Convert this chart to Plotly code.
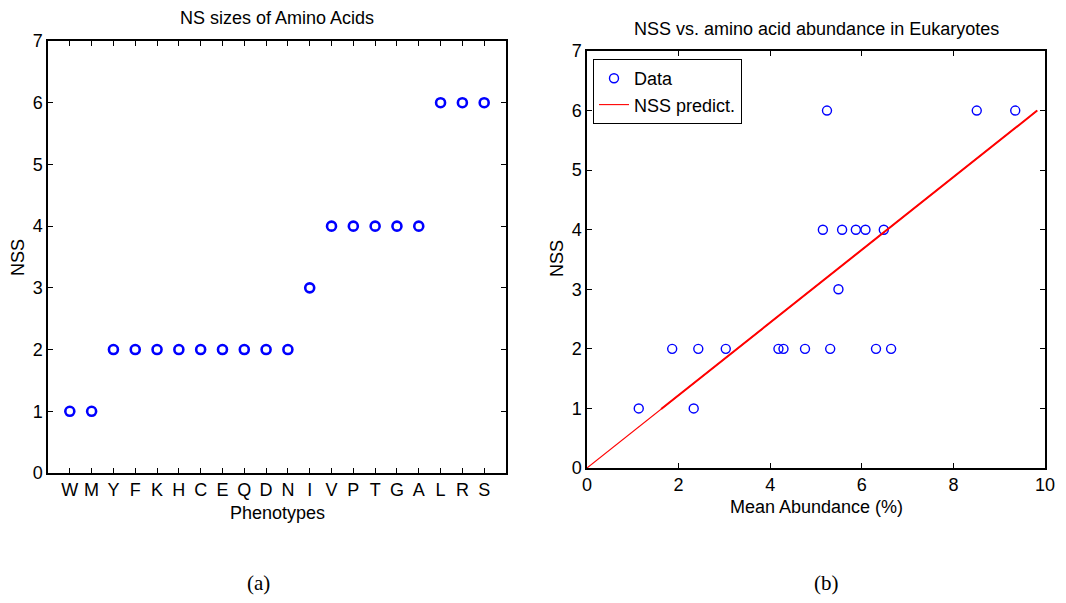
import plotly.graph_objects as go

W, H = 1066, 603

# ---- data: panel (a)
phenotypes = ["W", "M", "Y", "F", "K", "H", "C", "E", "Q", "D",
              "N", "I", "V", "P", "T", "G", "A", "L", "R", "S"]
nss_a = [1, 1, 2, 2, 2, 2, 2, 2, 2, 2, 2, 3, 4, 4, 4, 4, 4, 6, 6, 6]

# ---- data: panel (b)
abundance = [1.13, 2.33, 1.86, 2.43, 3.03, 4.18, 4.29, 4.76, 5.31, 6.31,
             6.64, 5.49, 5.15, 5.57, 5.87, 6.08, 6.48, 5.24, 8.51, 9.35]
nss_b = [1, 1, 2, 2, 2, 2, 2, 2, 2, 2, 2, 3, 4, 4, 4, 4, 4, 6, 6, 6]
pred_x = [0.0, 9.83]
pred_y = [0.0, 6.0]
pred_x_overlap = [1.62, 9.83]
pred_y_overlap = [0.99, 6.0]

y_ticks = [0, 1, 2, 3, 4, 5, 6, 7]
x_ticks_b = [0, 2, 4, 6, 8, 10]

FONT = "Liberation Sans, Arial, sans-serif"
BLUE = "#0000ff"

def px_x(p):
    return p / W

def px_y(p):
    return 1 - p / H

fig = go.Figure()

fig.add_trace(go.Scatter(
    x=phenotypes, y=nss_a, mode="markers", xaxis="x", yaxis="y",
    marker=dict(symbol="circle-open", size=9, color=BLUE, line=dict(width=2.6, color=BLUE)),
    showlegend=False))

fig.add_trace(go.Scatter(
    x=abundance, y=nss_b, mode="markers", xaxis="x2", yaxis="y2", name="Data",
    marker=dict(symbol="circle-open", size=9, color=BLUE, line=dict(width=1.4, color=BLUE))))

fig.add_trace(go.Scatter(
    x=pred_x, y=pred_y, mode="lines", xaxis="x2", yaxis="y2", name="NSS predict.",
    line=dict(color="#ff0000", width=1.1)))

fig.add_trace(go.Scatter(
    x=pred_x_overlap, y=pred_y_overlap, mode="lines", xaxis="x2", yaxis="y2",
    showlegend=False, line=dict(color="#ff0000", width=2)))

axis_common = dict(showgrid=False, zeroline=False, showline=True, linecolor="black",
                   linewidth=1.5, mirror="ticks", ticks="inside", ticklen=5,
                   tickcolor="black", tickwidth=1, automargin=False,
                   tickfont=dict(family=FONT, size=18, color="black"))

fig.update_layout(
    template="none",
    width=W, height=H,
    margin=dict(l=0, r=0, t=0, b=0, pad=0),
    paper_bgcolor="white", plot_bgcolor="white",
    font=dict(family=FONT, size=18, color="black"),
    xaxis=dict(domain=[px_x(48), px_x(506)], type="category",
               categoryorder="array", categoryarray=phenotypes,
               tickmode="array", tickvals=phenotypes, ticktext=phenotypes,
               range=[-1, len(phenotypes)], anchor="y", **axis_common),
    yaxis=dict(domain=[px_y(473), px_y(41)], range=[0, 7], tickvals=y_ticks,
               anchor="x", **axis_common),
    xaxis2=dict(domain=[px_x(587), px_x(1045)], range=[0, 10], tickvals=x_ticks_b,
                anchor="y2", **axis_common),
    yaxis2=dict(domain=[px_y(468), px_y(51)], range=[0, 7], tickvals=y_ticks,
                anchor="x2", **axis_common),
    legend=dict(x=px_x(593), y=px_y(59), xanchor="left", yanchor="top",
                bordercolor="black", borderwidth=1, bgcolor="white",
                font=dict(family=FONT, size=18, color="black"),
                tracegroupgap=0, itemwidth=30),
)

annotations = [
    dict(text="NS sizes of Amino Acids", x=px_x(277), y=px_y(18), size=18, angle=0, fam=FONT),
    dict(text="NSS vs. amino acid abundance in Eukaryotes", x=px_x(816), y=px_y(29), size=18, angle=0, fam=FONT),
    dict(text="Phenotypes", x=px_x(277), y=px_y(513), size=18, angle=0, fam=FONT),
    dict(text="Mean Abundance (%)", x=px_x(816), y=px_y(507), size=18, angle=0, fam=FONT),
    dict(text="NSS", x=px_x(18), y=px_y(258), size=18, angle=-90, fam=FONT),
    dict(text="NSS", x=px_x(557), y=px_y(259), size=18, angle=-90, fam=FONT),
    dict(text="(a)", x=px_x(258), y=px_y(583), size=21, angle=0, fam="Liberation Serif, DejaVu Serif, serif"),
    dict(text="(b)", x=px_x(826), y=px_y(583), size=21, angle=0, fam="Liberation Serif, DejaVu Serif, serif"),
]
for a in annotations:
    fig.add_annotation(text=a["text"], x=a["x"], y=a["y"], xref="paper", yref="paper",
                       xanchor="center", yanchor="middle", showarrow=False,
                       textangle=a["angle"],
                       font=dict(family=a["fam"], size=a["size"], color="black"))

fig.write_html("out.html")
